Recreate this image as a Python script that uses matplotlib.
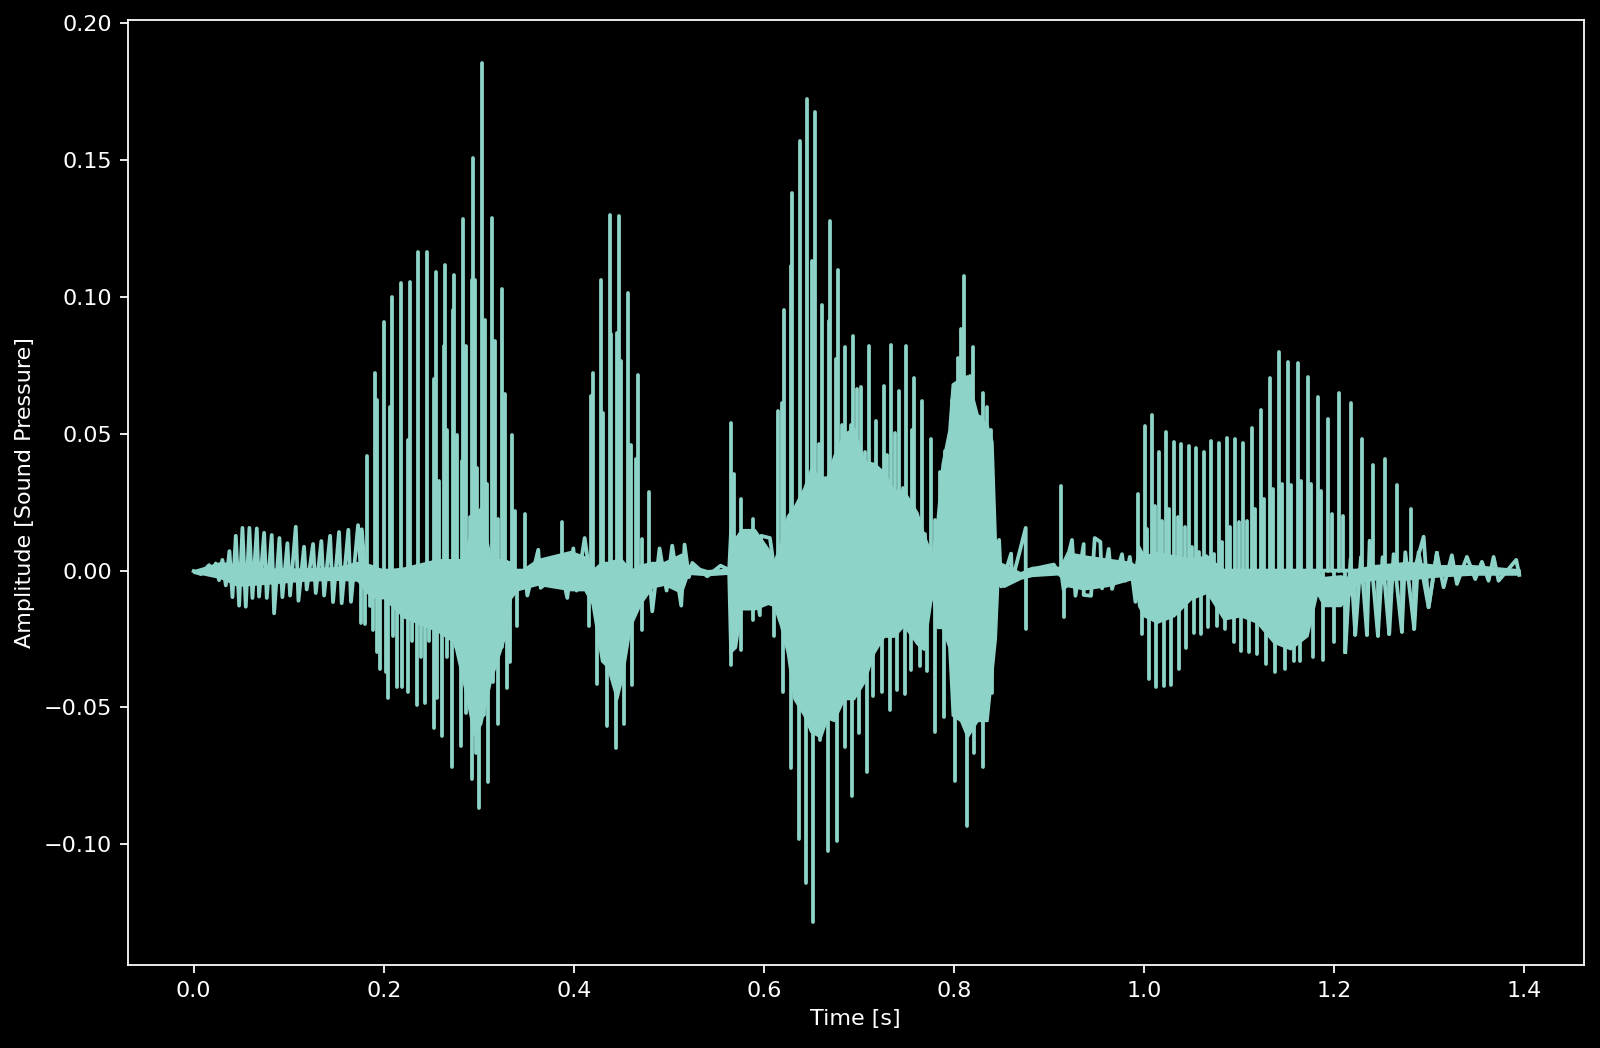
import numpy as np
import matplotlib
matplotlib.use('Agg')
import matplotlib.pyplot as plt

# values: main positive peaks of the waveform
up_t = [0.0, 0.0162, 0.0232, 0.0302, 0.0376, 0.0443, 0.0513, 0.0586, 0.0664, 0.0741, 0.0821, 0.0902, 0.0986,
        0.1074, 0.1161, 0.1256, 0.1343, 0.1435, 0.1529, 0.1627, 0.1729, 0.1768, 0.1820, 0.1908, 0.1999, 0.2087,
        0.2178, 0.2272, 0.2364, 0.2458, 0.2553, 0.2644, 0.2742, 0.2837, 0.2938, 0.3033, 0.3135, 0.3247, 0.3352,
        0.3482, 0.3625, 0.3871, 0.3994, 0.4113, 0.4204, 0.4288, 0.4378, 0.4474, 0.4568, 0.4673, 0.4789, 0.4901,
        0.5034, 0.5164, 0.5245, 0.5543, 0.5654, 0.5683, 0.5753, 0.5886, 0.5970, 0.6062, 0.6146, 0.6215, 0.6296,
        0.6377, 0.6451, 0.6531, 0.6612, 0.6692, 0.6776, 0.6857, 0.6938, 0.7018, 0.7102, 0.7183, 0.7260, 0.7337,
        0.7418, 0.7498, 0.7579, 0.7667, 0.7758, 0.7801, 0.7909, 0.8042, 0.8105, 0.8203, 0.8301, 0.8343, 0.8473,
        0.8599, 0.8753, 0.9048, 0.9125, 0.9240, 0.9363, 0.9479, 0.9538, 0.9626, 0.9766, 0.9848, 0.9938, 1.0005,
        1.0082, 1.0158, 1.0233, 1.0313, 1.0390, 1.0467, 1.0544, 1.0625, 1.0706, 1.0787, 1.0870, 1.0954, 1.1042,
        1.1133, 1.1225, 1.1323, 1.1417, 1.1512, 1.1613, 1.1718, 1.1824, 1.1936, 1.2052, 1.2171, 1.2286, 1.2409,
        1.2536, 1.2662, 1.2802, 1.2939, 1.3078, 1.3236, 1.3394, 1.3552, 1.3675, 1.3913]
up_y = [-0.0002, 0.0020, 0.0026, 0.0039, 0.0071, 0.0127, 0.0156, 0.0156, 0.0154, 0.0138, 0.0130, 0.0119, 0.0100,
        0.0160, 0.0087, 0.0097, 0.0108, 0.0127, 0.0141, 0.0149, 0.0166, 0.0151, 0.0419, 0.0722, 0.0910, 0.0999,
        0.1051, 0.1053, 0.1163, 0.1163, 0.1090, 0.1118, 0.1079, 0.1286, 0.1509, 0.1853, 0.1290, 0.1029, 0.0495,
        0.0207, 0.0076, 0.0179, 0.0081, 0.0119, 0.0723, 0.1062, 0.1299, 0.1295, 0.1016, 0.0716, 0.0288, 0.0081,
        0.0091, 0.0095, 0.0028, 0.0018, 0.0539, 0.0353, 0.0262, 0.0190, 0.0127, 0.0119, 0.0582, 0.0952, 0.1378,
        0.1568, 0.1722, 0.1676, 0.0972, 0.1276, 0.1098, 0.0818, 0.0858, 0.0672, 0.0822, 0.0548, 0.0676, 0.0824,
        0.0656, 0.0820, 0.0702, 0.0620, 0.0482, 0.0186, 0.0436, 0.0776, 0.1076, 0.0818, 0.0650, 0.0596, 0.0112,
        0.0062, 0.0156, 0.0022, 0.0309, 0.0112, 0.0097, 0.0119, 0.0105, 0.0079, 0.0060, 0.0050, 0.0279, 0.0530,
        0.0569, 0.0435, 0.0506, 0.0470, 0.0464, 0.0455, 0.0447, 0.0433, 0.0472, 0.0466, 0.0484, 0.0479, 0.0467,
        0.0521, 0.0585, 0.0702, 0.0798, 0.0763, 0.0757, 0.0706, 0.0636, 0.0555, 0.0647, 0.0612, 0.0482, 0.0387,
        0.0406, 0.0313, 0.0224, 0.0124, 0.0064, 0.0056, 0.0050, 0.0032, 0.0050, 0.0039]

# main negative peaks
down_t = [0.0075, 0.0197, 0.0267, 0.0338, 0.0408, 0.0478, 0.0548, 0.0618, 0.0688, 0.0769, 0.0846, 0.0933, 0.1014,
          0.1102, 0.1189, 0.1284, 0.1372, 0.1466, 0.1557, 0.1655, 0.1757, 0.1803, 0.1883, 0.1957, 0.2048, 0.2136,
          0.2255, 0.2346, 0.2437, 0.2528, 0.2616, 0.2717, 0.2809, 0.2924, 0.2998, 0.3096, 0.3198, 0.3299, 0.3397,
          0.3510, 0.3650, 0.3930, 0.4028, 0.4162, 0.4246, 0.4344, 0.4439, 0.4526, 0.4607, 0.4719, 0.4824, 0.4975,
          0.5129, 0.5210, 0.5402, 0.5648, 0.5753, 0.5886, 0.5956, 0.6110, 0.6202, 0.6286, 0.6363, 0.6440, 0.6517,
          0.6594, 0.6678, 0.6763, 0.6847, 0.6927, 0.6997, 0.7088, 0.7148, 0.7246, 0.7323, 0.7400, 0.7488, 0.7548,
          0.7639, 0.7716, 0.7797, 0.7898, 0.8010, 0.8130, 0.8206, 0.8308, 0.8399, 0.8494, 0.8610, 0.8753, 0.9118,
          0.9160, 0.9276, 0.9363, 0.9440, 0.9556, 0.9661, 0.9801, 0.9907, 0.9974, 1.0050, 1.0127, 1.0208, 1.0285,
          1.0362, 1.0443, 1.0520, 1.0597, 1.0667, 1.0766, 1.0853, 1.0941, 1.1021, 1.1099, 1.1186, 1.1284, 1.1372,
          1.1484, 1.1572, 1.1642, 1.1771, 1.1884, 1.1992, 1.2115, 1.2220, 1.2343, 1.2458, 1.2577, 1.2710, 1.2840,
          1.2991, 1.3149, 1.3289, 1.3482, 1.3622, 1.3727, 1.3945]
down_y = [-0.0013, -0.0017, -0.0035, -0.0054, -0.0097, -0.0128, -0.0132, -0.0100, -0.0095, -0.0100, -0.0156, -0.0097, -0.0091,
          -0.0110, -0.0069, -0.0082, -0.0091, -0.0115, -0.0119, -0.0114, -0.0190, -0.0194, -0.0216, -0.0361, -0.0467, -0.0426,
          -0.0445, -0.0491, -0.0482, -0.0575, -0.0603, -0.0718, -0.0640, -0.0761, -0.0869, -0.0774, -0.0560, -0.0430, -0.0203,
          -0.0091, -0.0063, -0.0100, -0.0073, -0.0202, -0.0415, -0.0568, -0.0648, -0.0561, -0.0417, -0.0216, -0.0149, -0.0073,
          -0.0128, -0.0024, -0.0021, -0.0345, -0.0289, -0.0180, -0.0163, -0.0238, -0.0444, -0.0722, -0.0982, -0.1142, -0.1284,
          -0.0618, -0.1024, -0.0988, -0.0644, -0.0824, -0.0594, -0.0736, -0.0458, -0.0444, -0.0508, -0.0438, -0.0452, -0.0364,
          -0.0348, -0.0368, -0.0588, -0.0534, -0.0768, -0.0932, -0.0668, -0.0718, -0.0448, -0.0058, -0.0038, -0.0212, -0.0018,
          -0.0171, -0.0092, -0.0089, -0.0092, -0.0065, -0.0067, -0.0037, -0.0114, -0.0232, -0.0396, -0.0426, -0.0422, -0.0418,
          -0.0359, -0.0284, -0.0228, -0.0232, -0.0205, -0.0204, -0.0213, -0.0262, -0.0292, -0.0296, -0.0305, -0.0343, -0.0369,
          -0.0359, -0.0332, -0.0332, -0.0317, -0.0326, -0.0262, -0.0298, -0.0234, -0.0235, -0.0238, -0.0232, -0.0223, -0.0213,
          -0.0134, -0.0061, -0.0049, -0.0031, -0.0037, -0.0037, -0.0016]

# shorter positive spikes between the main ones
side_t = [0.1932, 0.2069, 0.2255, 0.2528, 0.2581, 0.2633, 0.2668, 0.2732, 0.2767, 0.2819, 0.2861, 0.2903, 0.2928,
          0.2963, 0.2984, 0.3065, 0.3089, 0.3166, 0.3201, 0.3275, 0.3380, 0.4183, 0.4309, 0.4386, 0.4449, 0.4498,
          0.4596, 0.4649, 0.4719, 0.6191, 0.6279, 0.6506, 0.6577, 0.6682, 0.6752, 0.6822, 0.6910, 0.6980, 0.7067,
          0.7162, 0.7218, 0.7296, 0.7376, 0.7463, 0.7558, 0.7628, 0.7698, 0.7856, 0.7979, 0.8077, 0.8165, 0.8270,
          0.8392, 1.0029, 1.0117, 1.0187, 1.0258, 1.0352, 1.0432, 1.0503, 1.0573, 1.0650, 1.0737, 1.0818, 1.0906,
          1.0993, 1.1081, 1.1168, 1.1263, 1.1354, 1.1449, 1.1544, 1.1648, 1.1754, 1.1859, 1.1975, 1.2090]
side_y = [0.0625, 0.0597, 0.0476, 0.0700, 0.0328, 0.0821, 0.0514, 0.0951, 0.0495, 0.0402, 0.0821, 0.0197, 0.1063,
          0.1063, 0.0374, 0.0914, 0.0318, 0.0839, 0.0188, 0.0644, 0.0216, 0.0639, 0.0576, 0.0863, 0.0869, 0.0765,
          0.0458, 0.0409, 0.0116, 0.0612, 0.1112, 0.1132, 0.0462, 0.0912, 0.0772, 0.0532, 0.0532, 0.0662, 0.0432,
          0.0372, 0.0192, 0.0422, 0.0502, 0.0302, 0.0512, 0.0152, 0.0132, 0.0362, 0.0622, 0.0882, 0.0712, 0.0562,
          0.0512, 0.0151, 0.0236, 0.0182, 0.0224, 0.0194, 0.0158, 0.0085, 0.0067, 0.0055, 0.0060, 0.0103, 0.0158,
          0.0176, 0.0182, 0.0225, 0.0261, 0.0298, 0.0316, 0.0312, 0.0328, 0.0316, 0.0292, 0.0206, 0.0200]

# shorter negative spikes in the first loud burst
side_low_t = [0.1852, 0.1932, 0.2020, 0.2101, 0.2195, 0.2300, 0.2388, 0.2476, 0.2563, 0.2668, 0.2763, 0.2861,
              0.2966, 0.3054, 0.3152, 0.3247, 0.3327]
side_low_y = [-0.0128, -0.0296, -0.0370, -0.0240, -0.0426, -0.0259, -0.0316, -0.0259, -0.0465, -0.0316, -0.0279,
              -0.0521, -0.0668, -0.0528, -0.0407, -0.0279, -0.0335]

# notches near the end of the last burst, negative and small positive turns
vee_t = [1.2115, 1.2170, 1.2220, 1.2280, 1.2343, 1.2371, 1.2458, 1.2507, 1.2577, 1.2623, 1.2710, 1.2746, 1.2840,
         1.2886, 1.2991, 1.3078]
vee_y = [-0.0298, 0.0042, -0.0234, 0.0050, -0.0235, 0.0109, -0.0238, 0.0049, -0.0232, 0.0060, -0.0223, 0.0067,
         -0.0213, 0.0067, -0.0134, 0.0064]

# the solid band in the middle of the waveform
core_t = [0.0, 0.0110, 0.0285, 0.0460, 0.0811, 0.1161, 0.1512, 0.1722, 0.1862, 0.2002, 0.2213, 0.2563, 0.2738,
          0.2844, 0.2949, 0.3019, 0.3124, 0.3264, 0.3334, 0.3404, 0.3615, 0.3965, 0.4113, 0.4190, 0.4290, 0.4350,
          0.4450, 0.4500, 0.4596, 0.4700, 0.4820, 0.4950, 0.5130, 0.5200, 0.5400, 0.5620, 0.5640, 0.5700, 0.5760,
          0.5900, 0.6040, 0.6103, 0.6173, 0.6244, 0.6314, 0.6419, 0.6490, 0.6594, 0.6664, 0.6734, 0.6839, 0.6944,
          0.7050, 0.7155, 0.7260, 0.7365, 0.7470, 0.7610, 0.7680, 0.7768, 0.7821, 0.7873, 0.7943, 0.7979, 0.8067,
          0.8137, 0.8242, 0.8347, 0.8399, 0.8434, 0.8459, 0.8522, 0.8697, 0.8820, 0.9100, 0.9118, 0.9138, 0.9188,
          0.9363, 0.9609, 0.9854, 0.9907, 0.9941, 0.9994, 1.0134, 1.0310, 1.0485, 1.0660, 1.0836, 1.1013, 1.1186,
          1.1361, 1.1536, 1.1713, 1.1817, 1.1887, 1.2063, 1.2150, 1.2239, 1.2412, 1.2763, 1.3114, 1.3465, 1.3945]
core_hi = [0.0000, 0.0011, 0.0030, 0.0020, 0.0006, 0.0006, 0.0011, 0.0030, 0.0020, 0.0000, 0.0010, 0.0040, 0.0040,
           0.0040, 0.0200, 0.0230, 0.0040, 0.0040, 0.0030, -0.0010, 0.0040, 0.0070, 0.0050, 0.0000, 0.0030, 0.0030,
           0.0040, 0.0040, 0.0000, 0.0020, 0.0030, 0.0030, 0.0060, 0.0020, 0.0000, 0.0005, 0.0150, 0.0120, 0.0150,
           0.0150, 0.0080, 0.0032, 0.0100, 0.0200, 0.0232, 0.0302, 0.0372, 0.0342, 0.0342, 0.0420, 0.0500, 0.0520,
           0.0400, 0.0392, 0.0360, 0.0292, 0.0292, 0.0212, 0.0132, 0.0052, 0.0192, 0.0392, 0.0512, 0.0682, 0.0702,
           0.0712, 0.0572, 0.0532, 0.0472, 0.0112, 0.0032, 0.0022, -0.0008, 0.0012, 0.0012, 0.0015, 0.0030, 0.0066,
           0.0054, 0.0042, 0.0030, 0.0018, 0.0090, 0.0054, 0.0066, 0.0054, 0.0042, 0.0054, 0.0000, 0.0000, 0.0000,
           0.0000, 0.0000, 0.0000, 0.0000, -0.0025, -0.0019, -0.0025, 0.0005, 0.0018, 0.0030, 0.0018, 0.0018, 0.0003]
core_lo = [-0.0007, -0.0013, -0.0026, -0.0054, -0.0045, -0.0035, -0.0032, -0.0035, -0.0095, -0.0100, -0.0170, -0.0220, -0.0260,
           -0.0420, -0.0600, -0.0560, -0.0400, -0.0250, -0.0100, -0.0070, -0.0050, -0.0070, -0.0070, -0.0120, -0.0330, -0.0350,
           -0.0470, -0.0400, -0.0200, -0.0120, -0.0060, -0.0050, -0.0080, -0.0010, -0.0015, -0.0010, -0.0300, -0.0280, -0.0140,
           -0.0140, -0.0120, -0.0128, -0.0200, -0.0300, -0.0468, -0.0528, -0.0588, -0.0608, -0.0538, -0.0548, -0.0468, -0.0468,
           -0.0408, -0.0300, -0.0240, -0.0240, -0.0200, -0.0268, -0.0288, -0.0078, -0.0208, -0.0208, -0.0278, -0.0528, -0.0548,
           -0.0608, -0.0548, -0.0548, -0.0368, -0.0248, -0.0048, -0.0058, -0.0028, -0.0018, -0.0012, -0.0016, -0.0068, -0.0055,
           -0.0067, -0.0055, -0.0031, -0.0043, -0.0129, -0.0165, -0.0189, -0.0165, -0.0104, -0.0079, -0.0177, -0.0165, -0.0189,
           -0.0262, -0.0286, -0.0238, -0.0080, -0.0128, -0.0128, -0.0092, -0.0043, -0.0031, -0.0031, -0.0019, -0.0013, -0.0013]

LINE = '#8dd3c7'
DPI = 160


def main():
    plt.style.use('dark_background')
    fig, ax = plt.subplots(figsize=(1600 / DPI, 1048 / DPI), dpi=DPI)
    fig.subplots_adjust(left=0.0797, right=0.99, top=0.9805, bottom=0.0792)

    # merge both peak lists in time order
    peak_t = np.array(up_t + down_t)
    peak_y = np.array(up_y + down_y)
    order = np.argsort(peak_t, kind='stable')
    peak_t = peak_t[order]
    peak_y = peak_y[order]

    # quiet parts read as a zigzag, loud parts as thin upright spikes
    loud = np.abs(peak_y) > 0.0167
    ax.plot(peak_t, np.where(loud, 0.0, peak_y), color=LINE, lw=1.7)
    ax.plot(vee_t, vee_y, color=LINE, lw=1.7)

    spike_sets = ((peak_t[loud], peak_y[loud]), (side_t, side_y), (side_low_t, side_low_y))
    for xs, ys in spike_sets:
        spikes = ax.vlines(xs, 0, ys, color=LINE, lw=1.7)
        spikes.set_capstyle('round')

    ax.fill_between(core_t, core_lo, core_hi, color=LINE, lw=1.0)

    ax.set_xlim(-0.0696, 1.4626)
    ax.set_ylim(-0.1441, 0.2010)
    ax.set_xlabel('Time [s]')
    ax.set_ylabel('Amplitude [Sound Pressure]')
    fig.savefig('out.png', dpi=DPI)


if __name__ == '__main__':
    main()
